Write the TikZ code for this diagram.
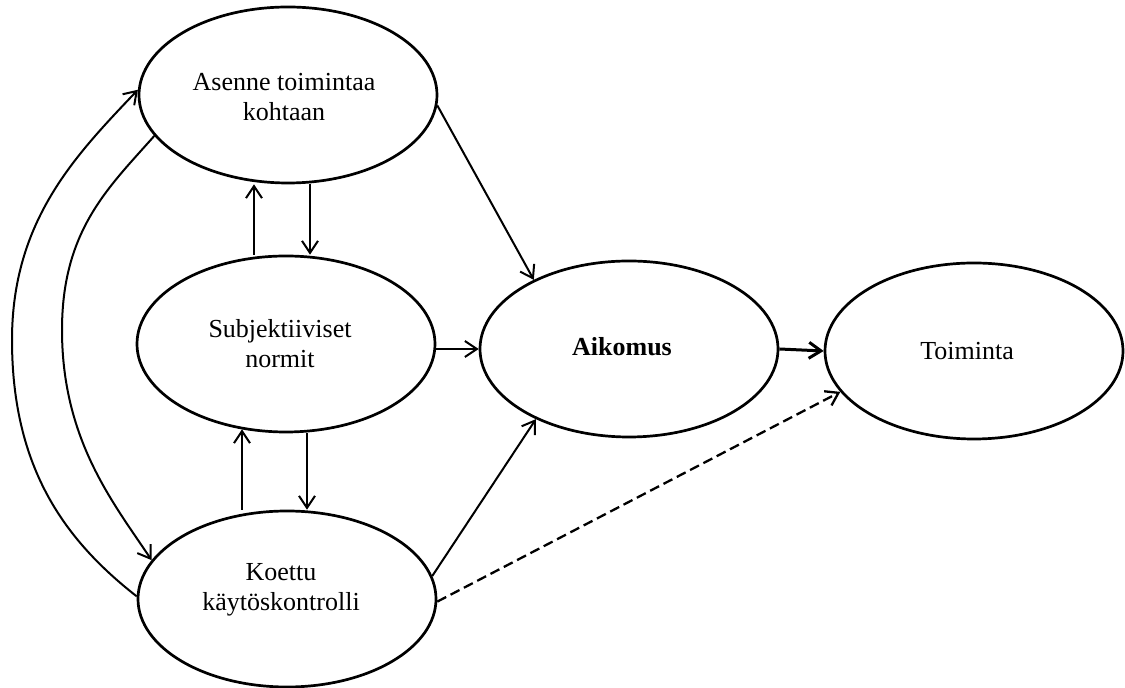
\documentclass[tikz,border=0pt]{standalone}
\usepackage{fontspec}
\setmainfont{Liberation Serif}
\usetikzlibrary{shapes.geometric,arrows.meta}

\begin{document}
\begin{tikzpicture}[x=0.5pt,y=-0.5pt,
  ell/.style={draw, ellipse, line width=1.35pt, minimum width=149pt, minimum height=88pt, inner sep=0pt},
  lbl/.style={align=center, font=\fontsize{13}{15}\selectfont},
  tlbl/.style={font=\fontsize{13}{16}\selectfont},
  arr/.style={line width=1pt, -{Straight Barb[length=6pt,width=8pt]}},
  dasharr/.style={arr, line width=1.15pt, dash pattern=on 5pt off 2.5pt}]
\useasboundingbox (0,0) rectangle (1125,688);

% ellipses
\node[ell] (asenne)   at (288,95)  {};
\node[ell] (subj)     at (286,344) {};
\node[ell] (koettu)   at (287,599) {};
\node[ell] (aikomus)  at (629,349) {};
\node[ell] (toiminta) at (974,351) {};

% texts
\node[lbl] (asenneT) at ([xshift=-2pt,yshift=-1pt]asenne.center) {Asenne toimintaa\\kohtaan};
\node[lbl] (subjT)   at ([xshift=-3pt]subj.center) {Subjektiiviset\\normit};
\node[lbl] (koettuT) at ([xshift=-3pt,yshift=4.5pt]koettu.center) {Koettu\\käytöskontrolli};
\node[tlbl, font=\bfseries\fontsize{13}{16}\selectfont] (aikomusT) at ([xshift=-3.5pt,yshift=1pt]aikomus.center) {Aikomus};
\node[tlbl] (toimintaT) at ([xshift=-3.5pt]toiminta.center) {Toiminta};

% straight connectors
\draw[arr] (asenne.-4.5) -- (aikomus.144.9);
\draw[arr] ([xshift=-16pt]subj.north) -- ([xshift=-16pt]subj.north |- asenne.south);
\draw[arr] ([xshift=11pt]asenne.south) -- ([xshift=11pt]asenne.south |- subj.north);
\draw[arr, shorten >=-2pt] ([xshift=-22.5pt]koettu.north) -- ([xshift=-22.5pt]koettu.north |- subj.south);
\draw[arr] ([xshift=10.5pt]subj.south) -- ([xshift=10.5pt]subj.south |- koettu.north);
\draw[arr] (subj.east |- aikomus.west) -- (aikomus.west);
\draw[arr, line width=1.5pt] (aikomus.east) -- (toiminta.west);
\draw[arr] (koettu.9.5) -- (aikomus.217.2);
\draw[dasharr] (koettu.-1) -- (toiminta.197.4);

% curved feedback connectors on the left
\draw[arr] (koettu.179) .. controls (66.7,541.5) and (12,470) .. (12,340)
  .. controls (12,220) and (76.4,154.6) .. (asenne.178);
\draw[arr] (asenne.197) .. controls (108.7,187.5) and (62,230) .. (62,330)
  .. controls (62,440) and (113.6,503.1) .. (koettu.164);
\end{tikzpicture}
\end{document}
